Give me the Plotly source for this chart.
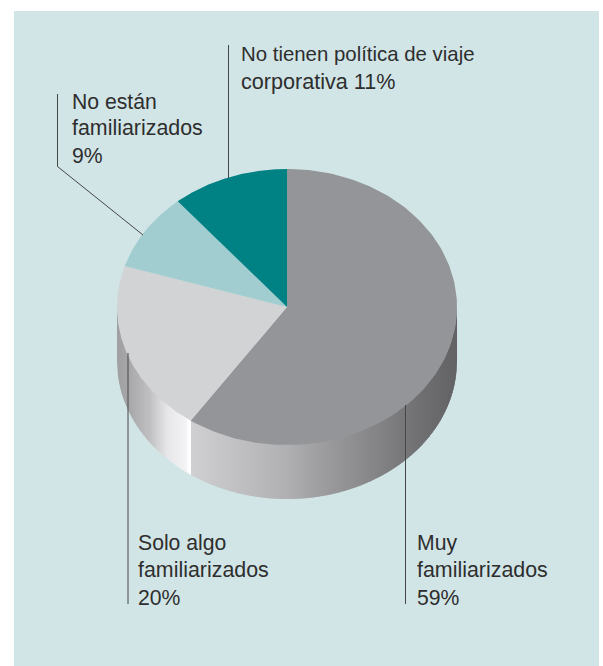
import numpy as np
import plotly.graph_objects as go

# Survey shares, clockwise from twelve o'clock
categories = ["Muy familiarizados", "Solo algo familiarizados", "No están familiarizados",
              "No tienen política de viaje corporativa"]
shares = [59, 20, 9, 11]
slice_colors = ["#939598", "#D1D3D4", "#A1CDD0", "#008285"]

# Label text, one entry per line, with the type size used for each line
label_lines = [
    [("No tienen política de viaje", 20.4), ("corporativa 11%", 21.6)],
    [("No están", 21.2), ("familiarizados", 21.4), ("9%", 21.2)],
    [("Solo algo", 21.2), ("familiarizados", 21.4), ("20%", 21.2)],
    [("Muy", 21.2), ("familiarizados", 21.4), ("59%", 21.2)],
]

WIDTH, HEIGHT = 603, 666
CX, CY, RX, RY, DEPTH = 287, 307, 170, 138, 54
PANEL = (14, 11, 599, 666)
PANEL_COLOR = "#D1E5E6"
TEXT_COLOR = "#2E2E2E"
LINE_COLOR = "#464646"

# Wall shading: (horizontal fraction of the pie width, grey level)
wall_left = [(0.0, 160), (0.032, 166), (0.097, 192), (0.147, 230), (0.205, 244), (0.209, 255), (0.215, 255)]
wall_right = [(0.215, 208), (0.50, 176), (0.585, 160), (0.79, 128), (0.89, 112), (1.0, 98)]


def edge_point(t):
    return CX + RX * np.sin(t), CY - RY * np.cos(t)


fig = go.Figure()

fractions = np.array(shares) / sum(shares)
boundaries = np.concatenate([[0], np.cumsum(fractions)]) * 2 * np.pi
split_x = edge_point(boundaries[1])[0]


def lower_rim(x):
    return CY + RY * np.sqrt(np.clip(1 - ((x - CX) / RX) ** 2, 0, 1))


# Wall of the cylinder as narrow overlapping strips
strip_edges = np.arange(CX - RX, CX + RX, 1.0)
for x0 in strip_edges:
    frac = (x0 + 0.5 - (CX - RX)) / (2 * RX)
    stops = wall_left if x0 + 0.5 < split_x else wall_right
    level = int(round(np.interp(frac, [s[0] for s in stops], [s[1] for s in stops])))
    x1 = min(x0 + 1.6, CX + RX)
    xs = np.linspace(x0, x1, 3)
    top = lower_rim(xs) - 2
    bottom = lower_rim(xs) + DEPTH
    tint = f"rgb({level},{level},{min(level + 2, 255)})"
    fig.add_trace(go.Scatter(
        x=np.concatenate([xs, xs[::-1]]), y=np.concatenate([top, bottom[::-1]]),
        mode="lines", line=dict(width=0), fill="toself", fillcolor=tint,
        hoverinfo="skip", showlegend=False))

# Top face slices
for i, (name, color) in enumerate(zip(categories, slice_colors)):
    t = np.linspace(boundaries[i], boundaries[i + 1], 180)
    ex, ey = edge_point(t)
    fig.add_trace(go.Scatter(
        x=np.concatenate([[CX], ex, [CX]]), y=np.concatenate([[CY], ey, [CY]]),
        mode="lines", line=dict(width=0), fill="toself", fillcolor=color,
        name=name, hoverinfo="name", showlegend=False))

# Leader lines
leaders = [
    ([228.5, 228.5], [45, 178]),
    ([57.5, 57.5, 143], [94, 166.5, 235]),
    ([128, 128], [353, 604]),
    ([405.5, 405.5], [405, 604]),
]
for lx, ly in leaders:
    fig.add_trace(go.Scatter(x=lx, y=ly, mode="lines", line=dict(color=LINE_COLOR, width=1),
                             hoverinfo="skip", showlegend=False))

# Text blocks, placed line by line
label_anchors = [(241, 54), (71.5, 101), (138, 543), (417, 543)]
LINE_STEP = 27
annotations = []
for lines, (ax, ay) in zip(label_lines, label_anchors):
    for n, (line, size) in enumerate(lines):
        annotations.append(dict(
            x=ax, y=ay + n * LINE_STEP, text=line, showarrow=False, xanchor="left", yanchor="middle",
            xshift=-2, font=dict(family="Liberation Sans, Arial, sans-serif", size=size, color=TEXT_COLOR)))

fig.update_layout(
    width=WIDTH, height=HEIGHT, margin=dict(l=0, r=0, t=0, b=0),
    paper_bgcolor="white", plot_bgcolor="white", showlegend=False,
    xaxis=dict(range=[0, WIDTH], visible=False, fixedrange=True),
    yaxis=dict(range=[HEIGHT, 0], visible=False, fixedrange=True),
    annotations=annotations,
    shapes=[dict(type="rect", layer="below", x0=PANEL[0], y0=PANEL[1], x1=PANEL[2], y1=PANEL[3],
                 line=dict(width=0), fillcolor=PANEL_COLOR)],
)

fig.write_html("out.html", config=dict(displayModeBar=False))
